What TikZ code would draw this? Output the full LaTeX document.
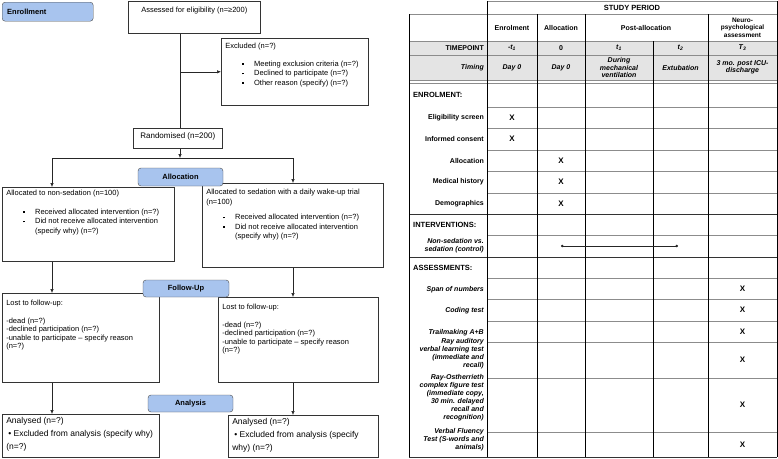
\documentclass[tikz,border=0pt]{standalone}
\usepackage{fontspec}
\setmainfont{Liberation Sans}
\usetikzlibrary{arrows.meta}

\definecolor{phaseblue}{RGB}{168,196,238}
\definecolor{rowgray}{RGB}{228,228,228}
\definecolor{rulegray}{RGB}{140,140,140}

\newcommand{\sqbul}{\raisebox{1.3pt}{\rule{1.8pt}{1.8pt}}}
\newcommand{\bitem}[1]{\hspace*{17pt}\sqbul\hspace{10pt}#1}
\newcommand{\bcont}[1]{\hspace*{28.8pt}#1}
\newcommand{\boxtext}[3]{\parbox[c][#2][t]{#1}{#3}}

\begin{document}
\begin{tikzpicture}[
  x=1pt, y=-1pt,
  font=\fontsize{7.5}{9.5}\selectfont,
  phase/.style={
    rectangle, rounded corners=3pt, draw=black!70, fill=phaseblue,
    inner xsep=5pt, inner ysep=0pt, align=center,
    font=\fontsize{7.5}{8}\selectfont\bfseries
  },
  box/.style={
    rectangle, draw=black!80, line width=0.6pt, fill=white,
    anchor=north west, inner xsep=4pt, inner ysep=3pt
  },
  flow/.style={-{Latex[length=4pt,width=3.5pt]}, black!85, line width=0.6pt},
  link/.style={black!85, line width=0.6pt},
  colrule/.style={black, line width=0.7pt},
  rowrule/.style={rulegray, line width=0.6pt},
  secrule/.style={black!80, line width=0.9pt},
  hd/.style={font=\fontsize{7}{7.5}\selectfont\bfseries, align=center, inner sep=0pt},
  tim/.style={font=\fontsize{7}{7.5}\selectfont\bfseries\itshape, align=center, inner sep=0pt},
  lab/.style={font=\fontsize{7}{8}\selectfont\bfseries, align=right, anchor=east, inner sep=0pt},
  ilab/.style={lab, font=\fontsize{7}{8}\selectfont\bfseries\itshape},
  sec/.style={font=\fontsize{7.5}{8}\selectfont\bfseries, anchor=west, inner sep=0pt},
  xmark/.style={font=\fontsize{8}{9}\selectfont\bfseries, inner sep=0pt},
  ivline/.style={{Circle[length=2.5pt]}-{Circle[length=2.5pt]}, black!85, line width=0.8pt},
]
\useasboundingbox (0,0) rectangle (778,458);

% ---- CONSORT flow (left) ----
\node[box] (assess) at (128,1)
  {\boxtext{124pt}{26pt}{\centering\vspace*{3pt}Assessed for eligibility (n=≥200)}};
\node[box] (excl) at (221,38)
  {\boxtext{139pt}{61pt}{\vspace*{2pt}Excluded (n=?)\\[8pt]
   \bitem{Meeting exclusion criteria (n=?)}\\
   \bitem{Declined to participate (n=?)}\\
   \bitem{Other reason (specify) (n=?)}}};
\node[box, font=\fontsize{8}{9}\selectfont] (rand) at (133,128)
  {\boxtext{81pt}{14pt}{\centering\vspace*{1pt}Randomised (n=200)}};

\node[box] (allocL) at (2,187)
  {\boxtext{164pt}{68pt}{Allocated to non-sedation (n=100)\\[9pt]
   \bitem{Received allocated intervention (n=?)}\\
   \bitem{Did not receive allocated intervention}\\
   \bcont{(specify why) (n=?)}}};
\node[box] (allocR) at (202,183)
  {\boxtext{173pt}{78pt}{\vspace*{3pt}Allocated to sedation with a daily wake-up trial\\
   (n=100)\\[6pt]
   \bitem{Received allocated intervention (n=?)}\\
   \bitem{Did not receive allocated intervention}\\
   \bcont{(specify why) (n=?)}}};

\node[box, font=\fontsize{7.5}{8.5}\selectfont] (fuL) at (2,293)
  {\boxtext{149pt}{83pt}{\vspace*{4pt}Lost to follow-up:\\[9pt]
   -dead (n=?)\\
   -declined participation (n=?)\\
   -unable to participate -- specify reason\\
   (n=?)}};
\node[box, font=\fontsize{7.5}{8.5}\selectfont] (fuR) at (218,297)
  {\boxtext{152pt}{79pt}{\vspace*{4pt}Lost to follow-up:\\[9pt]
   -dead (n=?)\\
   -declined participation (n=?)\\
   -unable to participate -- specify reason\\
   (n=?)}};

\node[box, font=\fontsize{8.5}{13}\selectfont] (anL) at (2,414)
  {\boxtext{149pt}{37pt}{Analysed (n=?)\\
   \hspace*{2pt}• Excluded from analysis (specify why)\\
   (n=?)}};
\node[box, font=\fontsize{8.5}{13}\selectfont] (anR) at (228,415)
  {\boxtext{142pt}{36pt}{Analysed (n=?)\\
   \hspace*{2pt}• Excluded from analysis (specify\\
   why) (n=?)}};

% phase labels
\node[phase, anchor=north west, text width=81pt, align=left, minimum height=19pt] (enrolPh) at (2,2) {Enrollment};
\node[phase, minimum width=85pt, minimum height=18pt] (allocPh) at (180.5,177) {Allocation};
\node[phase, minimum width=86pt, minimum height=17pt] (followPh) at (186,288.5) {Follow-Up};
\node[phase, minimum width=85pt, minimum height=17pt] (analysisPh) at (190.5,403.5) {Analysis};

% connectors
\coordinate (split) at (180,158);
\coordinate (splitL) at (52,158);
\coordinate (splitR) at (293,158);
\draw[link] (split |- assess.south) -- (split |- rand.north);
\draw[flow] (split |- excl.west) -- (excl.west);
\draw[flow] (split |- rand.south) -- (split);
\draw[link] (splitL) -- (splitR);
\draw[flow] (splitL) -- (splitL |- allocL.north);
\draw[flow] (splitR) -- (splitR |- allocR.north);
\draw[flow] (splitL |- allocL.south) -- (splitL |- fuL.north);
\draw[flow] (splitR |- allocR.south) -- (splitR |- fuR.north);
\draw[flow] (splitL |- fuL.south) -- (splitL |- anL.north);
\draw[flow] (splitR |- fuR.south) -- (splitR |- anR.north);

% ---- SPIRIT schedule (right) ----
\fill[rowgray] (409,41) rectangle (777,80);
\draw[rowrule] (487,1) -- (777,1);
\foreach \ry in {14,41,55,80,83}
  \draw[rowrule] (409,\ry) -- (777,\ry);
\foreach \ry in {107,128,150,171,193,235,278,299,321,342,378,432}
  \draw[rowrule] (487,\ry) -- (777,\ry);
\foreach \ry in {214,257,457}
  \draw[secrule] (409,\ry) -- (777,\ry);
\draw[colrule] (487,1) -- (487,457);
\draw[colrule] (777,1) -- (777,457);
\draw[colrule] (409,14) -- (409,457);
\foreach \cx in {537,585,708}
  \draw[colrule] (\cx,14) -- (\cx,457);
\draw[colrule] (653,41) -- (653,457);

% header rows
\node[hd, font=\fontsize{7.5}{8}\selectfont\bfseries] (period) at (632,7.5) {STUDY PERIOD};
\node[hd] (hEnrol) at (512,27.5) {Enrolment};
\node[hd] (hAlloc) at (561,27.5) {Allocation};
\node[hd] (hPost) at (646,27.5) {Post-allocation};
\node[hd, font=\fontsize{6.5}{7.5}\selectfont\bfseries] (hNeuro) at (742.5,27.5) {Neuro-\\psychological\\assessment};

\node[lab] (lTime) at (484,48) {TIMEPOINT};
\node[tim] (tEnrol) at (512,48) {-t\textsubscript{1}};
\node[hd] (tAlloc) at (561,48) {0};
\node[tim] (tVent) at (619,48) {t\textsubscript{1}};
\node[tim] (tExt) at (680.5,48) {t\textsubscript{2}};
\node[tim] (tDis) at (742.5,48) {T\textsubscript{3}};

\node[ilab] (lTiming) at (484,67.5) {Timing};
\node[tim] (dEnrol) at (512,67.5) {Day 0};
\node[tim] (dAlloc) at (561,67.5) {Day 0};
\node[tim] (dVent) at (619,67.5) {During\\mechanical\\ventilation};
\node[tim] (dExt) at (680.5,67.5) {Extubation};
\node[tim] (dDis) at (742.5,67.5) {3 mo. post ICU-\\discharge};

% row labels
\node[sec] (sEnrol) at (413,95) {ENROLMENT:};
\node[lab] (lElig) at (484,117.5) {Eligibility screen};
\node[lab] (lConsent) at (484,139) {Informed consent};
\node[lab] (lAlloc) at (484,160.5) {Allocation};
\node[lab] (lHist) at (484,182) {Medical history};
\node[lab] (lDemo) at (484,203.5) {Demographics};
\node[sec] (sInter) at (413,224.5) {INTERVENTIONS:};
\node[ilab] (lSed) at (484,246) {Non-sedation vs.\\sedation (control)};
\node[sec] (sAssess) at (413,267.5) {ASSESSMENTS:};
\node[ilab] (lSpan) at (484,290) {Span of numbers};
\node[ilab] (lCode) at (484,311) {Coding test};
\node[ilab] (lTrail) at (484,333) {Trailmaking A+B};
\node[ilab] (lRavlt) at (484,354) {Ray auditory\\verbal learning test\\(immediate and\\recall)};
\node[ilab] (lRcft) at (484,398) {Ray-Ostherrieth\\complex figure test\\(immediate copy,\\30 min. delayed\\recall and\\recognition)};
\node[ilab] (lFluency) at (484,440) {Verbal Fluency\\Test (S-words and\\animals)};

% marks
\foreach \nm/\cx/\cy in {xElig/512/117.5, xConsent/512/139, xAlloc/561/160.5,
    xHist/561/182, xDemo/561/203.5, xSpan/742.5/288.5, xCode/742.5/310,
    xTrail/742.5/331.5, xRavlt/742.5/360, xRcft/742.5/405, xFluency/742.5/444.5}
  \node[xmark] (\nm) at (\cx,\cy) {X};

\coordinate (ivStart) at (561,246);
\coordinate (ivEnd) at (678,246);
\draw[ivline] (ivStart) -- (ivEnd);

\end{tikzpicture}
\end{document}
